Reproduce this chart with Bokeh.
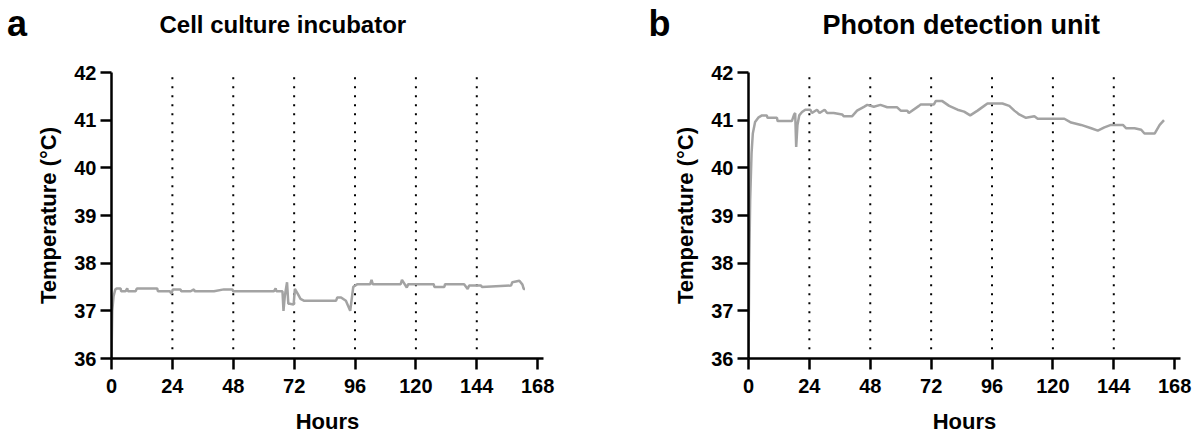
from bokeh.plotting import figure
from bokeh.layouts import row, column
from bokeh.models import FixedTicker, Range1d
from bokeh.core.properties import value
from bokeh.embed import file_html
from bokeh.resources import INLINE

# ---------------- data ----------------
x_ticks = [0, 24, 48, 72, 96, 120, 144, 168]
y_ticks = [36, 37, 38, 39, 40, 41, 42]
day_marks = [24, 48, 72, 96, 120, 144]

titles = ["Cell culture incubator", "Photon detection unit"]
panel_letters = ["a", "b"]

incubator_hours = [0, 0.3, 0.8, 1.5, 2.0, 3.6, 3.8, 5.5, 6.2, 6.5, 9.5, 10.0, 16.0, 18.0,
                   18.3, 22.0, 23.0, 23.6, 24.2, 26.0, 27.2, 27.5, 31.2, 32.5, 32.8, 40.4,
                   44.3, 45.0, 47.6, 48.0, 64.0, 64.7, 65.0, 67.4, 67.8, 68.3, 69.2, 69.7,
                   70.3, 71.8, 72.3, 73.5, 74.5, 76.0, 88.5, 89.0, 90.5, 92.4, 94.1, 95.3,
                   96.0, 97.0, 102.0, 102.5, 103.0, 114.0, 114.5, 116.4, 117.0, 127.0,
                   127.3, 131.2, 131.5, 139.0, 140.4, 141.0, 145.7, 146.0, 157.5, 158.0,
                   160.8, 162.0, 162.5, 163.0]
incubator_temp = [36.0, 37.0, 37.3, 37.45, 37.47, 37.47, 37.41, 37.41, 37.47, 37.41, 37.41,
                  37.47, 37.47, 37.47, 37.41, 37.41, 37.41, 37.36, 37.45, 37.45, 37.45,
                  37.41, 37.41, 37.45, 37.41, 37.41, 37.45, 37.45, 37.45, 37.41, 37.41,
                  37.47, 37.41, 37.41, 37.0, 37.3, 37.6, 37.15, 37.15, 37.13, 37.46, 37.35,
                  37.25, 37.21, 37.21, 37.28, 37.28, 37.21, 37.0, 37.5, 37.53, 37.56, 37.56,
                  37.65, 37.56, 37.56, 37.65, 37.49, 37.56, 37.56, 37.5, 37.5, 37.56, 37.56,
                  37.46, 37.53, 37.53, 37.5, 37.53, 37.6, 37.63, 37.55, 37.46, 37.46]

detector_hours = [0, 0.3, 0.66, 1.2, 1.7, 2.6, 4.0, 5.3, 7.2, 7.5, 11.2, 11.5, 17.1, 18.0,
                  18.4, 18.8, 19.3, 20.0, 21.1, 22.4, 24.4, 25.0, 27.0, 28.0, 30.0, 31.0,
                  33.6, 36.9, 37.6, 40.8, 42.8, 45.5, 46.8, 49.4, 52.0, 54.7, 58.6, 60.0,
                  62.6, 63.2, 67.2, 67.9, 73.1, 73.8, 76.4, 79.1, 82.4, 85.0, 87.4, 90.3,
                  92.9, 94.2, 100.1, 102.8, 104.8, 106.7, 109.4, 112.7, 114.0, 124.5, 127.2,
                  131.1, 135.1, 137.7, 140.3, 142.9, 147.6, 148.9, 152.2, 154.8, 156.1,
                  160.1, 162.1, 163.8]
detector_temp = [36.0, 38.0, 39.33, 40.3, 40.72, 40.96, 41.06, 41.10, 41.10, 41.05, 41.05,
                 40.98, 40.98, 41.12, 41.15, 40.44, 40.9, 41.1, 41.17, 41.22, 41.22, 41.15,
                 41.22, 41.15, 41.22, 41.15, 41.15, 41.12, 41.08, 41.08, 41.2, 41.28, 41.32,
                 41.28, 41.32, 41.27, 41.27, 41.2, 41.2, 41.15, 41.3, 41.33, 41.33, 41.4,
                 41.4, 41.3, 41.22, 41.18, 41.1, 41.2, 41.3, 41.35, 41.35, 41.3, 41.2,
                 41.12, 41.05, 41.08, 41.03, 41.03, 40.95, 40.9, 40.83, 40.78, 40.85, 40.9,
                 40.9, 40.83, 40.83, 40.8, 40.72, 40.72, 40.9, 41.0]

FONT = "Liberation Sans"
LINE_GRAY = "#a3a3a3"
HEADER_H = 60


def make_header(width, title, letter, title_x, letter_x, title_size):
    h = figure(width=width, height=HEADER_H, output_backend="svg", toolbar_location=None,
               x_range=Range1d(0, width), y_range=Range1d(0, HEADER_H),
               min_border=0, min_border_left=0, min_border_right=0,
               min_border_top=0, min_border_bottom=0)
    h.axis.visible = False
    h.grid.visible = False
    h.outline_line_color = None
    h.background_fill_color = "white"
    h.border_fill_color = "white"
    h.text(x=[title_x], y=[HEADER_H - 24], text=[title], text_font=value(FONT),
           text_font_style="bold", text_font_size=title_size, text_color="black",
           text_baseline="alphabetic", text_align="left")
    h.text(x=[letter_x], y=[HEADER_H - 23], text=[letter], text_font=value(FONT),
           text_font_style="bold", text_font_size="36px", text_color="black",
           text_baseline="alphabetic", text_align="left")
    return h


def make_panel(hours, temps, width, border_left, border_right):
    p = figure(width=width, height=436 - HEADER_H, output_backend="svg", toolbar_location=None,
               x_range=Range1d(0, 170.3), y_range=Range1d(36, 42),
               min_border_left=border_left, min_border_right=border_right,
               min_border_top=72 - HEADER_H, min_border_bottom=76)
    p.outline_line_color = None
    p.xgrid.visible = False
    p.ygrid.visible = False
    p.background_fill_color = "white"
    p.border_fill_color = "white"

    # dotted day markers
    p.segment(x0=day_marks, x1=day_marks, y0=[41.9] * len(day_marks), y1=[36.15] * len(day_marks),
              line_color="black", line_width=2, line_dash="2 7")

    p.line(hours, temps, line_color=LINE_GRAY, line_width=2.5)

    for ax, ticks in ((p.xaxis, x_ticks), (p.yaxis, y_ticks)):
        ax.ticker = FixedTicker(ticks=ticks)
        ax.minor_tick_line_color = None
        ax.axis_line_width = 2.5
        ax.axis_line_color = "black"
        ax.major_tick_line_width = 2.5
        ax.major_tick_line_color = "black"
        ax.major_tick_in = 0
        ax.major_tick_out = 11
        ax.major_label_text_font = FONT
        ax.major_label_text_font_style = "bold"
        ax.major_label_text_font_size = "20px"
        ax.major_label_text_color = "black"
        ax.axis_label_text_font = FONT
        ax.axis_label_text_font_style = "bold"
        ax.axis_label_text_font_size = "22px"
        ax.axis_label_text_color = "black"

    p.xaxis.axis_label = "Hours"
    p.yaxis.axis_label = "Temperature (°C)"
    p.xaxis.major_label_standoff = 9
    p.yaxis.major_label_standoff = 4
    p.xaxis.axis_label_standoff = 13
    p.yaxis.axis_label_standoff = 10
    return p


ha = make_header(600, titles[0], panel_letters[0], 159, 6.5, "24px")
hb = make_header(599, titles[1], panel_letters[1], 222, 48, "27px")
pa = make_panel(incubator_hours, incubator_temp, 600, 111, 57)
pb = make_panel(detector_hours, detector_temp, 599, 148, 19)

layout = column(row(ha, hb), row(pa, pb))
open("out.html", "w").write(file_html(layout, INLINE))
